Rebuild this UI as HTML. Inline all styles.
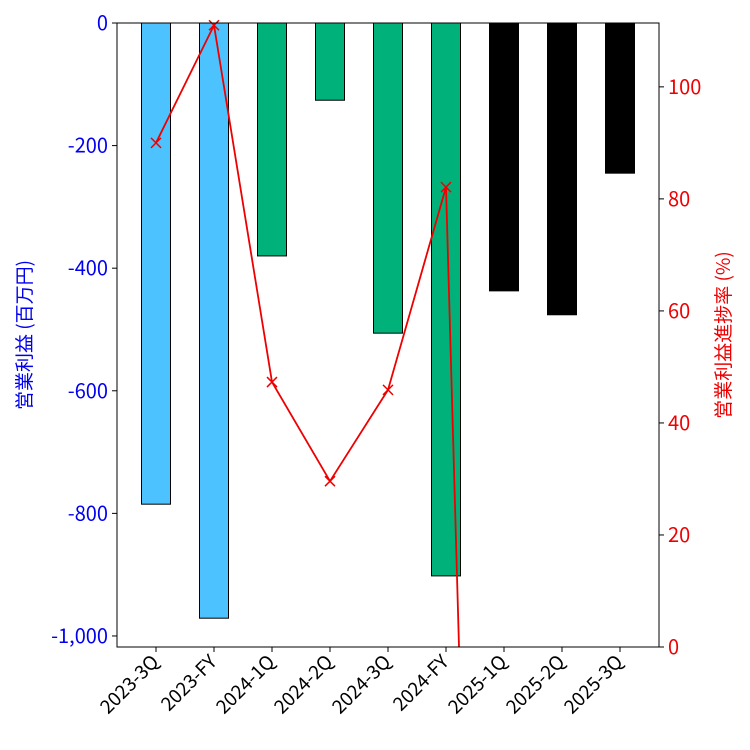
<!DOCTYPE html>
<html><head><meta charset="utf-8"><style>
html,body{margin:0;background:#fff;width:750px;height:750px;overflow:hidden;}
svg{display:block;}
svg text{font-family:"Noto Sans CJK JP","Liberation Sans",sans-serif;}
</style></head><body>
<svg id="c" width="750" height="750" xmlns="http://www.w3.org/2000/svg"></svg>
<script>
const categories=["2023-3Q","2023-FY","2024-1Q","2024-2Q","2024-3Q","2024-FY","2025-1Q","2025-2Q","2025-3Q"];
const profitValues=[-785,-971,-380,-126,-506,-902,-437,-476,-245];
const barColors=["#4cc3ff","#4cc3ff","#00b27a","#00b27a","#00b27a","#00b27a","#000000","#000000","#000000"];
const progressValues=[90,111,47.3,29.6,45.9,82.1,-284,null,null];
const leftTicks=[0,-200,-400,-600,-800,-1000];
const leftTickLabels=["0","-200","-400","-600","-800","-1,000"];
const rightTicks=[0,20,40,60,80,100];

const svg=document.getElementById('c');
const NS="http://www.w3.org/2000/svg";
const L=117,R=659,T=23,B=647;
const yL=v=>T+(0-v)/1018*(B-T);
const yR=v=>B-v/111.4*(B-T);
const xC=i=>156+58*i;
function mk(tag,attrs,parent){const e=document.createElementNS(NS,tag);for(const k in attrs)e.setAttribute(k,attrs[k]);(parent||svg).appendChild(e);return e;}

const bars=mk('g',{});


profitValues.forEach((v,i)=>{
  const r=mk('rect',{x:xC(i)-14.5,y:yL(0),width:29,height:yL(v)-yL(0),fill:barColors[i],stroke:'#000','stroke-width':1},bars);
  
  
});

const clip=mk('clipPath',{id:'pc'});
mk('rect',{x:L,y:T-6,width:R-L,height:B-T+6},clip);
const lg=mk('g',{'clip-path':'url(#pc)'});


let pts=[];
progressValues.forEach((v,i)=>{if(v!==null)pts.push([xC(i),yR(v)]);});
mk('polyline',{points:pts.map(p=>p.join(',')).join(' '),fill:'none',stroke:'#ee0000','stroke-width':1.8},lg);
pts.forEach((p,i)=>{
  const m=mk('path',{d:`M${p[0]-5},${p[1]-5}L${p[0]+5},${p[1]+5}M${p[0]-5},${p[1]+5}L${p[0]+5},${p[1]-5}`,stroke:'#ee0000','stroke-width':1.5},lg);
  
  
});

const frame=mk('rect',{x:L,y:T,width:R-L,height:B-T,fill:'none',stroke:'#000','stroke-width':1});



leftTicks.forEach((v,i)=>{
  const y=yL(v);
  mk('line',{x1:L-5,x2:L,y1:y,y2:y,stroke:'#000'});
  const t=mk('text',{x:L-9,y:y+7,'text-anchor':'end','font-size':20,fill:'#0000ee'});
  t.textContent=leftTickLabels[i];
  
  
});
rightTicks.forEach(v=>{
  const y=yR(v);
  mk('line',{x1:R,x2:R+5,y1:y,y2:y,stroke:'#000'});
  const t=mk('text',{x:R+9,y:y+7,'font-size':20,fill:'#ee0000'});
  t.textContent=String(v);
  
  
});
categories.forEach((c,i)=>{
  const x=xC(i);
  mk('line',{x1:x,x2:x,y1:B,y2:B+5,stroke:'#000'});
  const t=mk('text',{x:x+4,y:B+16,'text-anchor':'end','font-size':19,fill:'#000',transform:`rotate(-45 ${x+4} ${B+16})`});
  t.textContent=c;
  
  
});
const yl=mk('text',{x:31,y:335,'text-anchor':'middle','font-size':19,fill:'#0000ee',transform:'rotate(-90 31 335)'});
yl.textContent='営業利益 (百万円)';


const yr=mk('text',{x:730,y:335,'text-anchor':'middle','font-size':19,fill:'#ee0000',transform:'rotate(-90 730 335)'});
yr.textContent='営業利益進捗率 (%)';


</script>
</body></html>
